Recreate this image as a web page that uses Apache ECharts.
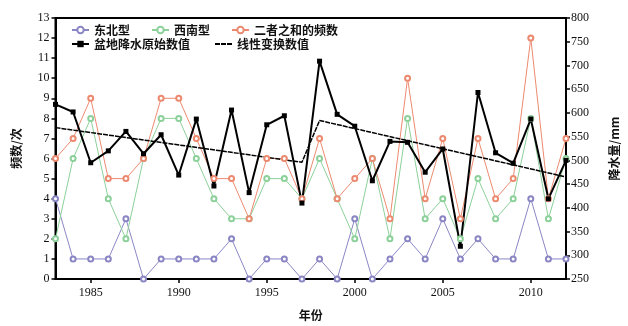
<!DOCTYPE html>
<html>
<head>
<meta charset="utf-8">
<script src="https://cdn.jsdelivr.net/npm/echarts@6/dist/echarts.min.js"></script>
<style>html,body{margin:0;padding:0;background:#fff;}#c{width:628px;height:326px;}</style>
</head>
<body>
<div id="c"></div>
<script>
const years = ['1983','1984','1985','1986','1987','1988','1989','1990','1991','1992','1993','1994','1995','1996','1997','1998','1999','2000','2001','2002','2003','2004','2005','2006','2007','2008','2009','2010','2011','2012'];
const northeast = [4,1,1,1,3,0,1,1,1,1,2,0,1,1,0,1,0,3,0,1,2,1,3,1,2,1,1,4,1,1];
const southwest = [2,6,8,4,2,6,8,8,6,4,3,3,5,5,4,6,4,2,6,2,8,3,4,2,5,3,4,8,3,6];
const sumFreq = [6,7,9,5,5,6,9,9,7,5,5,3,6,6,4,7,4,5,6,3,10,4,7,3,7,4,5,12,4,7];
const precip = [618,602,495,520,561,514,554,469,587,446,606,432,575,594,410,709,597,572,457,540,538,475,524,319,643,516,494,587,419,500];
const trend = [['1983',569],['1997',496],['1998',584],['2012',465]];

const serif = 'Liberation Serif';
const cjk = 'Noto Sans CJK SC';
const chart = echarts.init(document.getElementById('c'));
const isFive = (i, v) => Number(v) % 5 === 0;
chart.setOption({
  animation: false,
  backgroundColor: '#fff',
  grid: {left: 55.5, right: 53, top: 18, bottom: 43, show: true, borderColor: '#000', borderWidth: 2, backgroundColor: 'transparent'},
  legend: [
    {left: 71, top: 24, itemWidth: 17, itemHeight: 8, itemGap: 21, padding: 0,
     textStyle: {fontFamily: cjk, fontWeight: 'bold', fontSize: 12, color: '#111'},
     data: ['东北型','西南型','二者之和的频数']},
    {left: 71, top: 38, itemWidth: 17, itemHeight: 8, itemGap: 24, padding: 0,
     textStyle: {fontFamily: cjk, fontWeight: 'bold', fontSize: 12, color: '#111'},
     data: ['盆地降水原始数值', {name: '线性变换数值', itemStyle: {opacity: 0}}]}
  ],
  xAxis: {
    type: 'category', data: years, boundaryGap: false,
    name: '年份', nameLocation: 'middle', nameGap: 30,
    nameTextStyle: {fontFamily: cjk, fontWeight: 'bold', fontSize: 12, color: '#111'},
    axisLine: {lineStyle: {color: '#000', width: 2}},
    axisTick: {show: true, interval: isFive, length: 4, lineStyle: {color: '#000', width: 1.5}},
    axisLabel: {interval: isFive, margin: 8, fontFamily: serif, fontSize: 12, color: '#111'},
    splitLine: {show: false}
  },
  yAxis: [
    {type: 'value', min: 0, max: 13, interval: 1, position: 'left',
     name: '频数/次', nameLocation: 'middle', nameRotate: 90, nameGap: 33,
     nameTextStyle: {fontFamily: cjk, fontWeight: 'bold', fontSize: 12, color: '#111'},
     axisLine: {show: true, lineStyle: {color: '#000', width: 2}},
     axisTick: {show: true, length: 4, lineStyle: {color: '#000', width: 1.5}},
     axisLabel: {margin: 6, fontFamily: serif, fontSize: 12, color: '#111'},
     splitLine: {show: false}},
    {type: 'value', min: 250, max: 800, interval: 50, position: 'right',
     name: '降水量/mm', nameLocation: 'middle', nameRotate: 90, nameGap: 42,
     nameTextStyle: {fontFamily: cjk, fontWeight: 'bold', fontSize: 12, color: '#111'},
     axisLine: {show: true, lineStyle: {color: '#000', width: 2}},
     axisTick: {show: true, length: 4, lineStyle: {color: '#000', width: 1.5}},
     axisLabel: {margin: 5, fontFamily: serif, fontSize: 12, color: '#111'},
     splitLine: {show: false}}
  ],
  series: [
    {name: '东北型', type: 'line', data: northeast, yAxisIndex: 0,
     symbol: 'emptyCircle', symbolSize: 5,
     lineStyle: {color: '#8a86c4', width: 1}, itemStyle: {color: '#8a86c4', borderWidth: 1}},
    {name: '西南型', type: 'line', data: southwest, yAxisIndex: 0,
     symbol: 'emptyCircle', symbolSize: 5,
     lineStyle: {color: '#8cd09a', width: 1}, itemStyle: {color: '#8cd09a', borderWidth: 1}},
    {name: '二者之和的频数', type: 'line', data: sumFreq, yAxisIndex: 0,
     symbol: 'emptyCircle', symbolSize: 5,
     lineStyle: {color: '#ec8a70', width: 1}, itemStyle: {color: '#ec8a70', borderWidth: 1}},
    {name: '盆地降水原始数值', type: 'line', data: precip, yAxisIndex: 1,
     symbol: 'rect', symbolSize: 5,
     lineStyle: {color: '#000', width: 2}, itemStyle: {color: '#000'}},
    {name: '线性变换数值', type: 'line', data: trend, yAxisIndex: 1,
     symbol: 'none',
     lineStyle: {color: '#000', width: 1.5, type: [5, 1]}, itemStyle: {color: '#000'}}
  ]
});
</script>
</body>
</html>
